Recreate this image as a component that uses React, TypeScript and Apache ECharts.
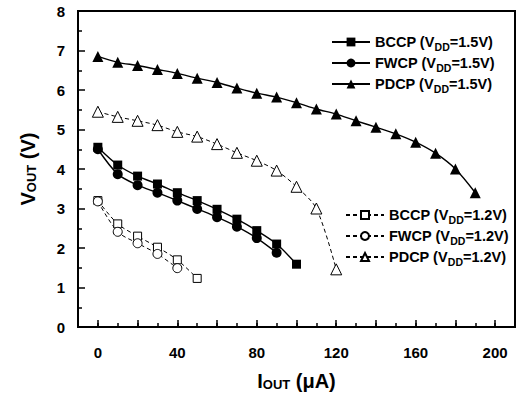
import React, { useEffect, useRef } from 'react';
import * as echarts from 'echarts';

const FONT = '"Liberation Sans", Arial, Helvetica, sans-serif';

// I_OUT values (µA)
const iout = [0, 10, 20, 30, 40, 50, 60, 70, 80, 90, 100, 110, 120, 130, 140, 150, 160, 170, 180, 190];

// V_OUT values (V)
const bccp15 = [4.55, 4.10, 3.82, 3.62, 3.40, 3.20, 2.98, 2.73, 2.44, 2.10, 1.59];
const fwcp15 = [4.50, 3.87, 3.59, 3.40, 3.20, 2.99, 2.78, 2.54, 2.25, 1.88];
const pdcp15 = [6.85, 6.70, 6.62, 6.52, 6.42, 6.30, 6.19, 6.05, 5.92, 5.82, 5.68, 5.52, 5.39, 5.22, 5.06, 4.89, 4.68, 4.40, 4.00, 3.40];
const bccp12 = [3.20, 2.61, 2.30, 2.02, 1.70, 1.23];
const fwcp12 = [3.18, 2.41, 2.12, 1.85, 1.49];
const pdcp12 = [5.45, 5.32, 5.22, 5.11, 4.94, 4.82, 4.63, 4.41, 4.21, 3.96, 3.55, 3.00, 1.46];

// x tick positions (labels shown every 40)
const xTicks = ['-10', '0', '10', '20', '30', '40', '50', '60', '70', '80', '90', '100', '110', '120', '130', '140', '150', '160', '170', '180', '190', '200', '210'];

const names15 = ['BCCP (VDD=1.5V)', 'FWCP (VDD=1.5V)', 'PDCP (VDD=1.5V)'];
const names12 = ['BCCP (VDD=1.2V)', 'FWCP (VDD=1.2V)', 'PDCP (VDD=1.2V)'];

function mk(name: string, ys: number[], symbol: string, size: number, filled: boolean, dashed: boolean) {
  return {
    name,
    type: 'line',
    xAxisIndex: 0,
    yAxisIndex: 0,
    data: ys.map((y, i) => [iout[i], y]),
    smooth: 0.3,
    symbol,
    symbolSize: size,
    showSymbol: true,
    lineStyle: { color: '#000', width: dashed ? 1 : 1.4, type: dashed ? [4, 3] : 'solid' },
    itemStyle: { color: filled ? '#000' : '#fff', borderColor: '#000', borderWidth: filled ? 0 : 1 },
    z: filled ? 3 : 2,
  };
}

const richSub = {
  s: { fontFamily: FONT, fontWeight: 'bold', fontSize: 10.5, color: '#000', verticalAlign: 'bottom', lineHeight: 13 },
};

function legendFmt(name: string) {
  return name.replace('VDD', 'V{s|DD}');
}

const legendText = {
  fontFamily: FONT,
  fontWeight: 'bold',
  fontSize: 14.5,
  color: '#000',
  lineHeight: 20,
  rich: richSub,
};

const titleText = {
  fontFamily: FONT,
  fontWeight: 'bold',
  fontSize: 20,
  color: '#000',
  rich: { s: { fontFamily: FONT, fontWeight: 'bold', fontSize: 13, color: '#000', verticalAlign: 'bottom', lineHeight: 16 } },
};

export default function App() {
  const ref = useRef<HTMLDivElement>(null);
  useEffect(() => {
    const chart = echarts.init(ref.current!, null, { renderer: 'svg' });
    const option: any = {
      animation: false,
      backgroundColor: '#fff',
      grid: { left: 78, right: 6, top: 11, bottom: 71, show: true, borderColor: '#000', borderWidth: 2, backgroundColor: 'transparent' },
      xAxis: [
        {
          type: 'value',
          min: -10,
          max: 210,
          interval: 10,
          position: 'bottom',
          splitLine: { show: false },
          axisLine: { show: true, onZero: false, lineStyle: { color: '#000', width: 2 } },
          axisTick: { show: true, inside: true, length: 4, lineStyle: { color: '#000', width: 1.5 } },
          axisLabel: { show: false },
          name: 'I{s|OUT} (μA)',
          nameLocation: 'middle',
          nameGap: 44,
          nameTextStyle: titleText,
        },
        {
          type: 'category',
          data: xTicks,
          boundaryGap: false,
          position: 'bottom',
          axisLine: { show: false, onZero: false },
          splitLine: { show: false },
          axisTick: {
            show: true,
            inside: true,
            length: 7,
            interval: (_i: number, v: string) => Number(v) % 20 === 0,
            lineStyle: { color: '#000', width: 1.5 },
          },
          axisLabel: {
            show: true,
            interval: (_i: number, v: string) => Number(v) >= 0 && Number(v) % 40 === 0,
            margin: 18,
            fontFamily: FONT,
            fontWeight: 'bold',
            fontSize: 15,
            color: '#000',
          },
        },
      ],
      yAxis: {
        type: 'value',
        min: 0,
        max: 8,
        interval: 1,
        splitLine: { show: false },
        axisLine: { show: true, onZero: false, lineStyle: { color: '#000', width: 2 } },
        axisTick: { show: true, inside: true, length: 7, lineStyle: { color: '#000', width: 1.5 } },
        minorTick: { show: true, splitNumber: 2, length: 4, lineStyle: { color: '#000', width: 1.5 } },
        axisLabel: { margin: 13, fontFamily: FONT, fontWeight: 'bold', fontSize: 15, color: '#000' },
        name: 'V{s|OUT} (V)',
        nameLocation: 'middle',
        nameRotate: 90,
        nameGap: 40,
        nameTextStyle: titleText,
      },
      legend: [
        {
          data: names15,
          orient: 'vertical',
          left: 326,
          top: 27,
          itemWidth: 38,
          itemHeight: 11,
          itemGap: 1,
          formatter: legendFmt,
          textStyle: legendText,
          selectedMode: false,
        },
        {
          data: names12,
          orient: 'vertical',
          left: 340,
          top: 200,
          itemWidth: 38,
          itemHeight: 10,
          itemGap: 1,
          formatter: legendFmt,
          textStyle: legendText,
          selectedMode: false,
        },
      ],
      series: [
        mk(names15[0], bccp15, 'rect', 9, true, false),
        mk(names15[1], fwcp15, 'circle', 10, true, false),
        mk(names15[2], pdcp15, 'triangle', 11, true, false),
        mk(names12[0], bccp12, 'rect', 8, false, true),
        mk(names12[1], fwcp12, 'circle', 9, false, true),
        mk(names12[2], pdcp12, 'triangle', 11, false, true),
      ],
    };
    chart.setOption(option);
    return () => chart.dispose();
  }, []);
  return <div ref={ref} style={{ width: 521, height: 398, position: 'absolute', left: 0, top: 0 }} />;
}
